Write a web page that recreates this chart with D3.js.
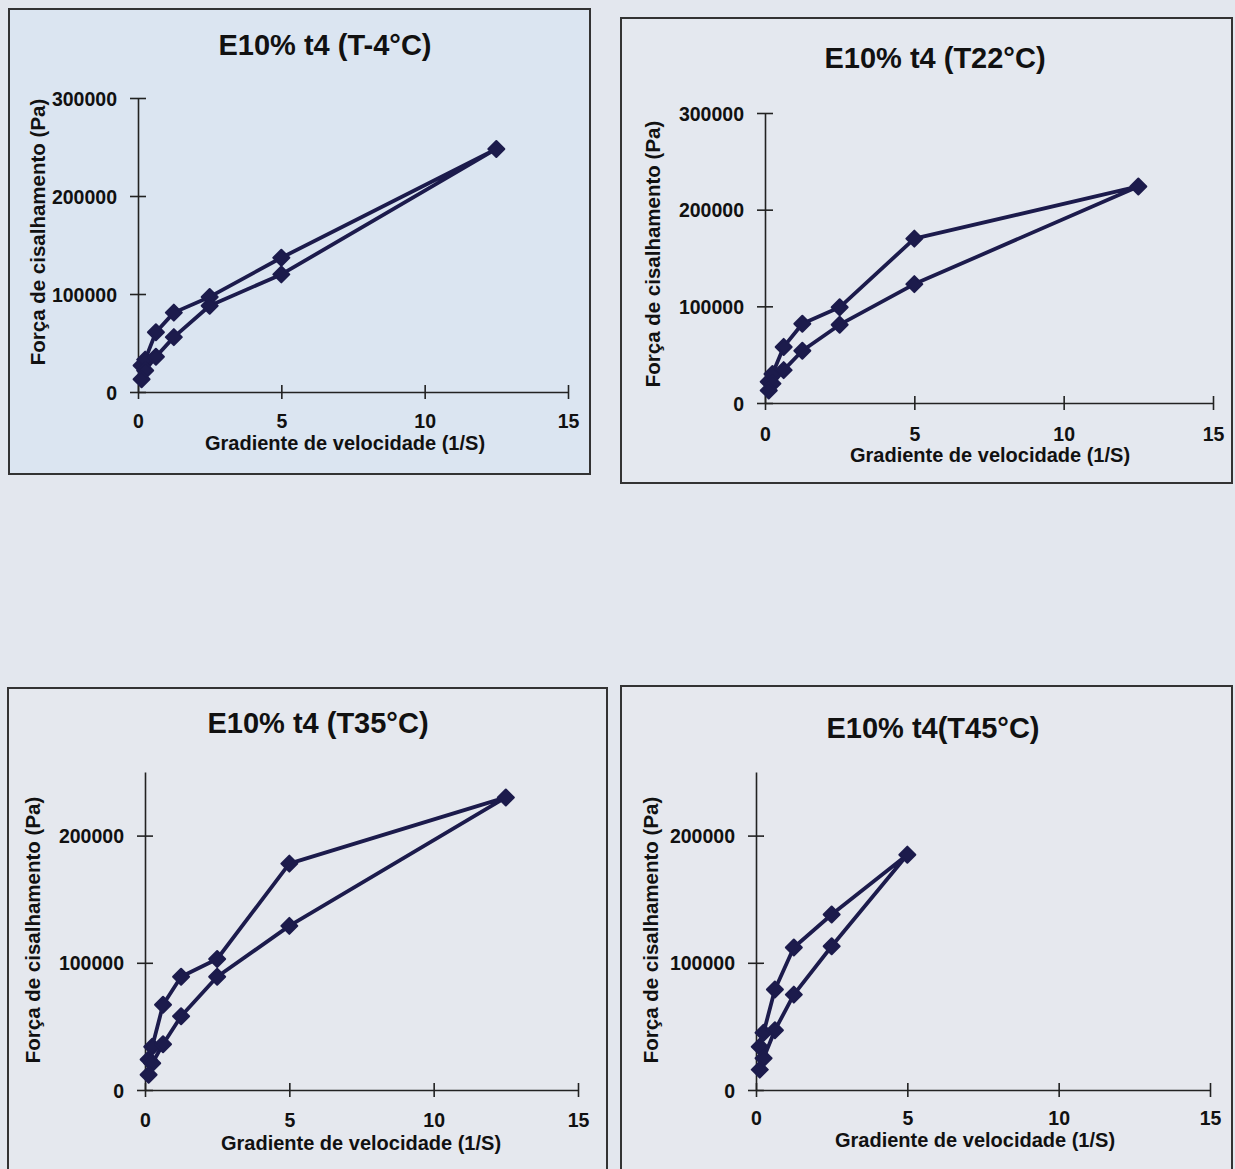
<!DOCTYPE html>
<html>
<head>
<meta charset="utf-8">
<script src="https://cdn.jsdelivr.net/npm/d3@7"></script>
<style>
  body { margin: 0; background: #e3e7ee; }
  svg { display: block; font-family: "Liberation Sans", Arial, sans-serif; }
</style>
</head>
<body>
<svg width="1235" height="1169"></svg>
<script>
// shear rate (1/S), ascending then descending
var xUp = [0.125, 0.25, 0.625, 1.25, 2.5, 5, 12.5];
var xDown = [5, 2.5, 1.25, 0.625, 0.25, 0.125];
var xUp45 = [0.125, 0.25, 0.625, 1.25, 2.5, 5];
var xDown45 = [2.5, 1.25, 0.625, 0.25, 0.125];

// shear stress (Pa)
var upTm4 = [27000, 33000, 61000, 81000, 97000, 137000, 248000];
var downTm4 = [120000, 88000, 56000, 36000, 22000, 13000];
var upT22 = [22000, 30000, 58000, 82000, 99000, 170000, 224000];
var downT22 = [123000, 81000, 54000, 34000, 20000, 13000];
var upT35 = [24000, 34000, 67000, 89000, 103000, 178000, 230000];
var downT35 = [129000, 89000, 58000, 36000, 21000, 12000];
var upT45 = [34000, 45000, 79000, 112000, 138000, 185000];
var downT45 = [113000, 75000, 47000, 25000, 16000];

var xTicks = [0, 5, 10, 15];
var yTicks300 = [0, 100000, 200000, 300000];
var yTicks250 = [0, 100000, 200000];

var titles = ["E10% t4 (T-4°C)", "E10% t4 (T22°C)", "E10% t4 (T35°C)", "E10% t4(T45°C)"];
var xTitle = "Gradiente de velocidade (1/S)";
var yTitle = "Força de cisalhamento (Pa)";

var svg = d3.select("svg");
var ink = "#1c1b4c";

var charts = [
  {box: [9, 9, 590, 474], fill: "#dbe5f1", x0: 138, x1: 568, y0: 392, y1: 98, ymax: 300000, yt: yTicks300,
   title: titles[0], tx: 325, ty: 55, xtx: 345, xty: 450, ytx: 38, yty: 232, lab: 428,
   xs: xUp.concat(xDown), ys: upTm4.concat(downTm4)},
  {box: [621, 18, 1232, 483], fill: "#e4e8ef", x0: 765, x1: 1213, y0: 403, y1: 113, ymax: 300000, yt: yTicks300,
   title: titles[1], tx: 935, ty: 68, xtx: 990, xty: 462, ytx: 653, yty: 254, lab: 441,
   xs: xUp.concat(xDown), ys: upT22.concat(downT22)},
  {box: [8, 688, 607, 1180], fill: "#e5e8ee", x0: 145, x1: 578, y0: 1090, y1: 772, ymax: 250000, yt: yTicks250,
   title: titles[2], tx: 318, ty: 733, xtx: 361, xty: 1150, ytx: 33, yty: 930, lab: 1127,
   xs: xUp.concat(xDown), ys: upT35.concat(downT35)},
  {box: [621, 686, 1232, 1180], fill: "#e6e8ee", x0: 756, x1: 1210, y0: 1090, y1: 772, ymax: 250000, yt: yTicks250,
   title: titles[3], tx: 933, ty: 738, xtx: 975, xty: 1147, ytx: 651, yty: 930, lab: 1125,
   xs: xUp45.concat(xDown45), ys: upT45.concat(downT45)}
];

charts.forEach(function(c) {
  var g = svg.append("g");
  g.append("rect")
    .attr("x", c.box[0]).attr("y", c.box[1])
    .attr("width", c.box[2] - c.box[0]).attr("height", c.box[3] - c.box[1])
    .attr("fill", c.fill).attr("stroke", "#333").attr("stroke-width", 2);

  var x = d3.scaleLinear().domain([0, 15]).range([c.x0, c.x1]);
  var y = d3.scaleLinear().domain([0, c.ymax]).range([c.y0, c.y1]);

  // axes
  var xa = g.append("g").attr("transform", "translate(0," + c.y0 + ")")
    .call(d3.axisBottom(x).tickValues(xTicks).tickSize(7).tickSizeOuter(0).tickPadding(13));
  xa.selectAll(".tick line").attr("y1", -7);
  var ya = g.append("g").attr("transform", "translate(" + c.x0 + ",0)")
    .call(d3.axisLeft(y).tickValues(c.yt).tickFormat(d3.format("d")).tickSize(8).tickSizeOuter(0).tickPadding(13));
  ya.selectAll(".tick line").attr("x1", 8);
  g.selectAll(".domain").attr("stroke", "#222").attr("stroke-width", 1.6);
  g.selectAll(".tick line").attr("stroke", "#222").attr("stroke-width", 1.6);
  g.selectAll(".tick text").attr("fill", "#111").attr("font-size", 19.5).attr("font-weight", "bold")
    .attr("font-family", "Liberation Sans, Arial, sans-serif");
  xa.selectAll(".tick text").attr("dy", null).attr("y", c.lab - c.y0);
  ya.selectAll(".tick text").attr("dy", "0.36em");

  // titles
  g.append("text").attr("x", c.tx).attr("y", c.ty).attr("text-anchor", "middle")
    .attr("font-size", 29).attr("font-weight", "bold").attr("fill", "#111").text(c.title);
  g.append("text").attr("x", c.xtx).attr("y", c.xty).attr("text-anchor", "middle")
    .attr("font-size", 20).attr("fill", "#111").attr("font-weight", "bold").text(xTitle);
  g.append("text").attr("transform", "translate(" + c.ytx + "," + c.yty + ") rotate(-90)")
    .attr("text-anchor", "middle").attr("dy", "0.35em")
    .attr("font-size", 20.5).attr("fill", "#111").attr("font-weight", "bold").text(yTitle);

  // hysteresis loop
  var pts = c.xs.map(function(v, i) { return [v, c.ys[i]]; });
  var line = d3.line().x(function(d) { return x(d[0]); }).y(function(d) { return y(d[1]); });
  g.append("path").datum(pts).attr("d", line)
    .attr("fill", "none").attr("stroke", ink).attr("stroke-width", 3.8).attr("stroke-linejoin", "round");
  g.selectAll(".pt").data(pts).enter().append("path")
    .attr("class", "pt")
    .attr("transform", function(d) { return "translate(" + x(d[0]) + "," + y(d[1]) + ")"; })
    .attr("d", "M0,-8L8,0L0,8L-8,0Z")
    .attr("fill", ink).attr("stroke", ink).attr("stroke-width", 2).attr("stroke-linejoin", "round");
});
</script>
</body>
</html>
